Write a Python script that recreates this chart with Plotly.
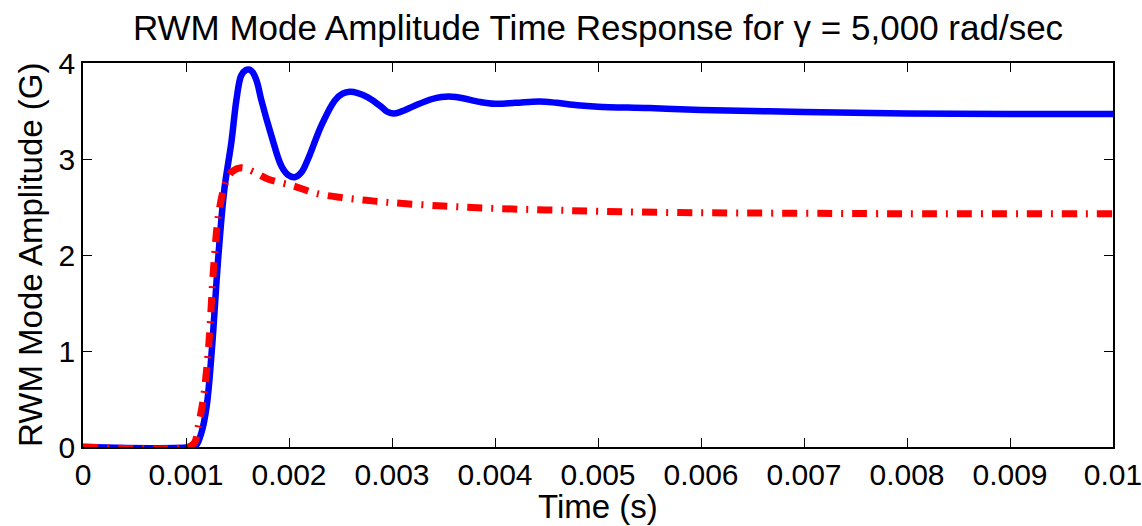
import plotly.graph_objects as go

# Values (time in ms, amplitude in G)
t_blue_ms = [0, 1.05, 1.10, 1.15, 1.20, 1.25, 1.315, 1.373, 1.44, 1.49, 1.536, 1.58, 1.617,
             1.65, 1.69, 1.73, 1.83, 1.925, 1.99, 2.055, 2.12, 2.185, 2.315, 2.445, 2.52,
             2.59, 2.66, 2.77, 2.90, 2.95, 3.01, 3.08, 3.22, 3.39, 3.48, 3.55, 3.62,
             3.70, 3.85, 4.00, 4.20, 4.43, 4.60, 4.80, 5.00, 5.50, 6.00, 6.50, 7.00,
             8.00, 9.00, 10.0]
v_blue = [0, 0, 0.02, 0.15, 0.42, 1.0, 2.0, 2.69, 3.17, 3.62, 3.87, 3.925, 3.93,
          3.90, 3.80, 3.62, 3.24, 2.93, 2.835, 2.81, 2.86, 3.0, 3.35, 3.61, 3.68,
          3.70, 3.69, 3.64, 3.54, 3.495, 3.475, 3.49, 3.555, 3.625, 3.645, 3.65, 3.645,
          3.63, 3.595, 3.575, 3.585, 3.60, 3.585, 3.56, 3.545, 3.53, 3.51, 3.50, 3.49,
          3.475, 3.47, 3.47]

t_red_ms = [0, 1.02, 1.08, 1.12, 1.17, 1.22, 1.27, 1.32, 1.39, 1.45, 1.536,
            1.65, 1.80, 2.055, 2.25, 2.50, 2.75, 3.00, 3.50, 4.00, 4.50, 5.00, 6.00,
            7.00, 8.00, 10.0]
v_red = [0, 0, 0.04, 0.22, 0.52, 1.05, 1.9, 2.45, 2.77, 2.87, 2.91,
         2.87, 2.79, 2.715, 2.645, 2.60, 2.57, 2.545, 2.51, 2.485, 2.47, 2.455, 2.44,
         2.435, 2.43, 2.43]

x_tick_vals = [0, 0.001, 0.002, 0.003, 0.004, 0.005, 0.006, 0.007, 0.008, 0.009, 0.01]
x_tick_text = ["0", "0.001", "0.002", "0.003", "0.004", "0.005", "0.006", "0.007",
               "0.008", "0.009", "0.01"]
y_tick_vals = [0, 1, 2, 3, 4]

title_text = "RWM Mode Amplitude Time Response for γ = 5,000 rad/sec"
x_title = "Time (s)"
y_title = "RWM Mode Amplitude (G)"

t_blue = [v / 1000 for v in t_blue_ms]
t_red = [v / 1000 for v in t_red_ms]

FONT = "Liberation Sans, Arial, sans-serif"
W, H = 1142, 526
ML, MR, MT, MB = 83, 29, 63, 79
PW, PH = W - ML - MR, H - MT - MB

fig = go.Figure()
fig.add_trace(go.Scatter(x=t_blue, y=v_blue, mode="lines",
                         line=dict(color="#0000ff", width=6.5, shape="spline", smoothing=1.0),
                         showlegend=False, hoverinfo="skip"))
fig.add_trace(go.Scatter(x=t_red, y=v_red, mode="lines",
                         line=dict(color="#ff0000", width=7, shape="spline", smoothing=1.0,
                                   dash="15px,9px,2px,9px"),
                         showlegend=False, hoverinfo="skip"))

axis_common = dict(showline=True, linecolor="black", linewidth=1.5, mirror="ticks",
                   ticks="inside", ticklen=9, tickwidth=1, tickcolor="black",
                   showgrid=False, zeroline=False, automargin=False,
                   ticklabeloverflow="allow",
                   tickfont=dict(family=FONT, size=30, color="black"))

fig.update_layout(
    width=W, height=H,
    margin=dict(l=ML, r=MR, t=MT, b=MB, autoexpand=False),
    paper_bgcolor="white", plot_bgcolor="white",
    title=dict(text=title_text,
               x=0.5, xref="paper", y=1 - 28 / H, yref="container",
               xanchor="center", yanchor="middle",
               font=dict(family=FONT, size=35, color="black")),
    xaxis=dict(range=[0, 0.01], tickvals=x_tick_vals, ticktext=x_tick_text, **axis_common),
    yaxis=dict(range=[0, 4], tickvals=y_tick_vals, **axis_common),
    annotations=[
        dict(text=x_title, xref="paper", yref="paper", x=0.5, y=-(506 - (H - MB)) / PH,
             xanchor="center", yanchor="middle", showarrow=False,
             font=dict(family=FONT, size=33, color="black")),
        dict(text=y_title, xref="paper", yref="paper", x=(30 - ML) / PW, y=0.5,
             xanchor="center", yanchor="middle", textangle=-90, showarrow=False,
             font=dict(family=FONT, size=33, color="black")),
    ],
)

fig.write_html("out.html", config={"displayModeBar": False},
               post_script="document.body.style.margin='0';")
